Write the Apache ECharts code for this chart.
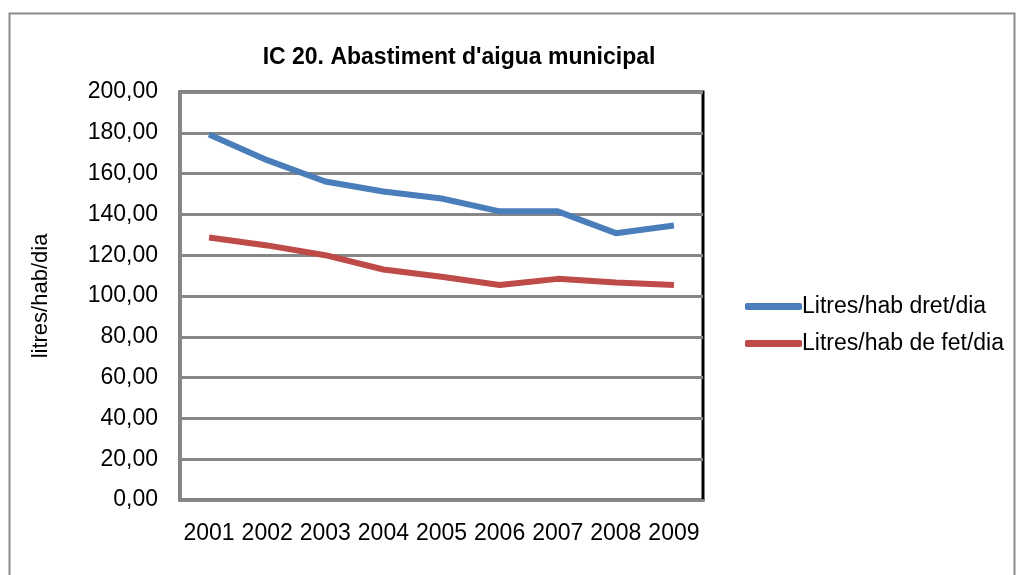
<!DOCTYPE html>
<html>
<head>
<meta charset="utf-8">
<script src="https://cdn.jsdelivr.net/npm/echarts@6/dist/echarts.min.js"></script>
<style>
  html, body { margin: 0; padding: 0; background: #fff; }
  #chart { width: 1019px; height: 575px; }
</style>
</head>
<body>
<div id="chart"></div>
<script>
  // values
  const years = ['2001', '2002', '2003', '2004', '2005', '2006', '2007', '2008', '2009'];
  const dretValues = [179.2, 166.6, 156.1, 151.2, 147.8, 141.5, 141.5, 130.8, 134.6];
  const fetValues = [128.7, 124.8, 120.0, 113.0, 109.4, 105.4, 108.4, 106.6, 105.4];
  const seriesNames = ['Litres/hab dret/dia', 'Litres/hab de fet/dia'];

  const font = 'Liberation Sans, Arial, sans-serif';
  const gridGray = '#878787';

  const chart = echarts.init(document.getElementById('chart'));

  chart.setOption({
    animation: false,
    backgroundColor: '#fff',
    graphic: [
      {
        type: 'rect',
        left: 7,
        top: 11,
        shape: {width: 1005, height: 620},
        style: {fill: 'none', stroke: '#8c8c8c', lineWidth: 2},
        silent: true
      }
    ],
    title: {
      text: "IC 20. Abastiment d'aigua municipal",
      left: 454,
      top: 41,
      textAlign: 'center',
      textStyle: {
        fontFamily: font,
        fontSize: 23,
        fontWeight: 'bold',
        color: '#000'
      }
    },
    grid: {
      show: true,
      left: 180,
      right: 316,
      top: 92,
      height: 408,
      borderColor: '#000',
      borderWidth: 3,
      containLabel: false
    },
    legend: {
      orient: 'vertical',
      left: 740,
      top: 290,
      icon: 'roundRect',
      itemWidth: 57,
      itemHeight: 7,
      itemGap: 14,
      textStyle: {
        fontFamily: font,
        fontSize: 23,
        color: '#000',
        padding: [0, 0, 0, -5]
      },
      data: seriesNames
    },
    xAxis: {
      type: 'category',
      data: years,
      boundaryGap: true,
      axisLine: {show: true, lineStyle: {color: gridGray, width: 3}},
      axisTick: {show: false},
      axisLabel: {
        fontFamily: font,
        fontSize: 23,
        color: '#000',
        margin: 22,
        interval: 0
      },
      splitLine: {show: false}
    },
    yAxis: {
      type: 'value',
      min: 0,
      max: 200,
      interval: 20,
      name: 'litres/hab/dia',
      nameLocation: 'middle',
      nameGap: 128,
      nameTextStyle: {
        fontFamily: font,
        fontSize: 22,
        color: '#000'
      },
      axisLine: {show: true, lineStyle: {color: gridGray, width: 3}},
      axisTick: {show: false},
      axisLabel: {
        fontFamily: font,
        fontSize: 23,
        color: '#000',
        margin: 22,
        formatter: function (v) {
          return v.toFixed(2).replace('.', ',');
        }
      },
      splitLine: {show: true, lineStyle: {color: gridGray, width: 3}}
    },
    series: [
      {
        name: seriesNames[0],
        type: 'line',
        symbol: 'none',
        smooth: false,
        lineStyle: {color: '#4a7ebb', width: 6},
        itemStyle: {color: '#4a7ebb'},
        data: dretValues
      },
      {
        name: seriesNames[1],
        type: 'line',
        symbol: 'none',
        smooth: false,
        lineStyle: {color: '#be4b48', width: 6},
        itemStyle: {color: '#be4b48'},
        data: fetValues
      }
    ]
  });
</script>
</body>
</html>
